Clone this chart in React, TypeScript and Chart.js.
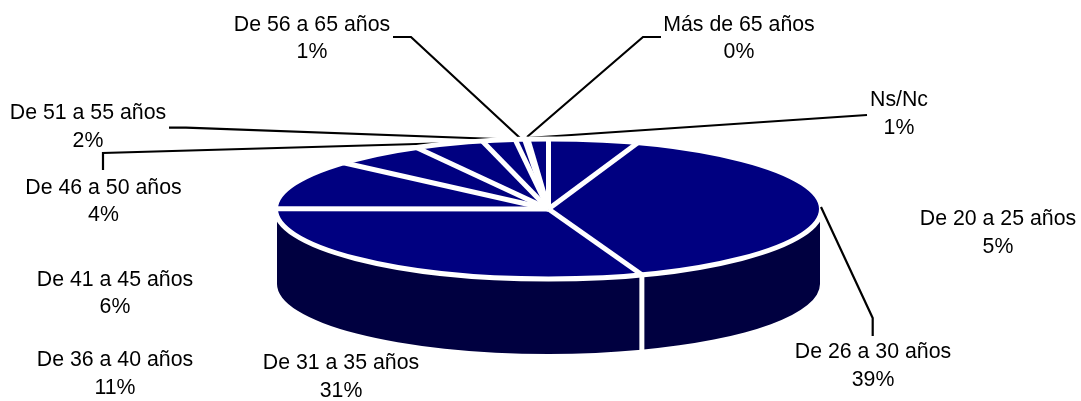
import React, { useEffect, useRef } from "react";
import { Chart, registerables } from "chart.js";

Chart.register(...registerables);

const categories = ["De 20 a 25 años", "De 26 a 30 años", "De 31 a 35 años", "De 36 a 40 años", "De 41 a 45 años", "De 46 a 50 años", "De 51 a 55 años", "De 56 a 65 años", "Más de 65 años", "Ns/Nc"];
const shareValues = [5.3, 39.1, 30.6, 11.4, 5.5, 4.1, 1.95, 0.55, 0.2, 1.2];
const percentLabels = ["5%", "39%", "31%", "11%", "6%", "4%", "2%", "1%", "0%", "1%"];

const FONT = '21.3px "Liberation Sans", Arial, sans-serif';
const TOP = "#000080";
const SIDE = "#000040";
const ELL = { cx: 548.5, cy: 209, rx: 273, ry: 70, wallRx: 271.5, depth: 75, stroke: 5 };

const labelPos: [number, number, number][] = [
  [998, 219, 247],
  [873, 352, 380],
  [341, 363, 391],
  [115, 360, 388],
  [115, 280, 307],
  [103.5, 188, 215],
  [88, 113, 141],
  [312, 25, 52],
  [739, 25, 52],
  [899, 100, 128],
];

const rimLeaders: [number, number][][] = [
  [[169, 127.7], [186, 127.7], [497, 139]],
  [[103, 170], [103, 153], [452, 143]],
  [[393, 37], [411, 37], [520, 138]],
  [[661, 37], [643, 37], [527, 137]],
  [[867, 115], [527, 138]],
];
const outerLeaders: [number, number][][] = [
  [[821, 207], [872.7, 318], [872.7, 336]],
];

function drawLeaders(ctx: CanvasRenderingContext2D, lines: [number, number][][]) {
  ctx.strokeStyle = "#000000";
  ctx.lineWidth = 2.2;
  lines.forEach((pts) => {
    ctx.beginPath();
    pts.forEach(([x, y], i) => (i ? ctx.lineTo(x, y) : ctx.moveTo(x, y)));
    ctx.stroke();
  });
}

const pie3d = {
  id: "pie3d",
  beforeDatasetsDraw(chart: any) {
    const ctx = chart.ctx;
    const arcs = chart.getDatasetMeta(0).data;
    const { cx, cy, rx, ry, wallRx, depth } = ELL;
    ctx.save();
    arcs.forEach((arc: any) => {
      const s = Math.max(arc.startAngle, 0);
      const e = Math.min(arc.endAngle, Math.PI);
      if (e <= s) return;
      ctx.beginPath();
      ctx.ellipse(cx, cy, wallRx, ry, 0, s, e);
      ctx.ellipse(cx, cy + depth, wallRx, ry, 0, e, s, true);
      ctx.closePath();
      ctx.fillStyle = SIDE;
      ctx.fill();
    });
    arcs.forEach((arc: any) => {
      const e = arc.endAngle;
      if (e <= 0 || e >= Math.PI - 0.01) return;
      const x = cx + rx * Math.cos(e);
      const y = cy + ry * Math.sin(e);
      ctx.beginPath();
      ctx.moveTo(x, y);
      ctx.lineTo(x, y + depth + 3);
      ctx.strokeStyle = "#ffffff";
      ctx.lineWidth = ELL.stroke;
      ctx.stroke();
    });
    ctx.restore();
    const first = arcs[0];
    ctx.save();
    const r = first.outerRadius;
    ctx.translate(cx, cy);
    ctx.scale(rx / r, ry / r);
    ctx.translate(-first.x, -first.y);
  },
  afterDatasetsDraw(chart: any) {
    const ctx = chart.ctx;
    ctx.restore();
    const arcs = chart.getDatasetMeta(0).data;
    const { cx, cy, rx, ry } = ELL;
    ctx.save();

    drawLeaders(ctx, rimLeaders);

    ctx.strokeStyle = "#ffffff";
    ctx.lineWidth = ELL.stroke;
    ctx.lineJoin = "round";
    arcs.forEach((arc: any) => {
      const a = arc.startAngle;
      ctx.beginPath();
      ctx.moveTo(cx, cy);
      ctx.lineTo(cx + rx * Math.cos(a), cy + ry * Math.sin(a));
      ctx.stroke();
    });
    ctx.beginPath();
    ctx.ellipse(cx, cy, rx, ry, 0, 0, 2 * Math.PI);
    ctx.stroke();

    drawLeaders(ctx, outerLeaders);

    ctx.fillStyle = "#000000";
    ctx.font = FONT;
    ctx.textAlign = "center";
    ctx.textBaseline = "middle";
    categories.forEach((c, i) => {
      const [x, y1, y2] = labelPos[i];
      ctx.fillText(c, x, y1);
      ctx.fillText(percentLabels[i], x, y2);
    });
    ctx.restore();
  },
};

export default function App() {
  const ref = useRef<HTMLCanvasElement>(null);
  useEffect(() => {
    document.body.style.margin = "0";
    document.body.style.background = "#ffffff";
    const chart = new Chart(ref.current!, {
      type: "pie",
      data: {
        labels: categories,
        datasets: [{ data: shareValues, backgroundColor: TOP, borderWidth: 0, hoverOffset: 0 }],
      },
      options: {
        responsive: false,
        animation: false,
        layout: { padding: 0 },
        events: [],
        plugins: { legend: { display: false }, tooltip: { enabled: false } },
      },
      plugins: [pie3d],
    });
    return () => chart.destroy();
  }, []);
  return <canvas ref={ref} width={1081} height={401} style={{ display: "block" }} />;
}
